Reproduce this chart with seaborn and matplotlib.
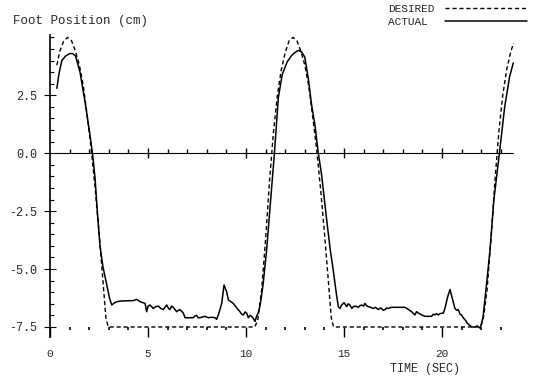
import matplotlib
matplotlib.use("Agg")
import matplotlib.pyplot as plt
from matplotlib.ticker import FixedLocator, MultipleLocator
import seaborn as sns
import pandas as pd

# desired foot trajectory (dashed)
t_desired = [0.35, 0.5, 0.7, 0.9, 1.1, 1.3, 1.5, 1.7, 1.9, 2.1, 2.3, 2.5, 2.7, 2.85, 2.97,
             10.45, 10.6, 10.8, 11.0, 11.2, 11.4, 11.6, 11.8, 12.0, 12.2, 12.4, 12.6, 12.8,
             13.0, 13.2, 13.4, 13.6, 13.8, 14.0, 14.2, 14.35, 14.47,
             21.95, 22.1, 22.3, 22.5, 22.7, 22.9, 23.1, 23.3, 23.5, 23.65]
pos_desired = [3.8, 4.4, 4.85, 5.0, 4.85, 4.4, 3.8, 2.9, 1.6, 0.2, -1.5, -3.4, -5.5, -7.1, -7.5,
               -7.5, -7.2, -5.9, -3.7, -1.2, 0.9, 2.5, 3.6, 4.35, 4.85, 5.0, 4.85, 4.4,
               3.8, 2.9, 1.6, 0.2, -1.5, -3.4, -5.5, -7.1, -7.5,
               -7.5, -7.2, -5.9, -3.7, -1.2, 0.9, 2.5, 3.6, 4.35, 4.75]

# measured foot position (solid)
t_actual = [0.35, 0.45, 0.6, 0.8, 1.0, 1.15, 1.3, 1.53, 1.79, 2.04, 2.18, 2.3, 2.42, 2.55,
            2.7, 2.9, 3.05, 3.15, 3.3, 3.45, 3.6, 4.0, 4.25, 4.42, 4.6, 4.85, 4.93, 5.0,
            5.1, 5.27, 5.4, 5.53, 5.65, 5.78, 5.95, 6.05, 6.12, 6.2, 6.29, 6.38, 6.46,
            6.55, 6.63, 6.8, 6.89, 7.1, 7.31, 7.4, 7.48, 7.56, 7.65, 7.9, 8.08, 8.25,
            8.42, 8.5, 8.6, 8.67, 8.76, 8.88, 9.01, 9.1, 9.35, 9.55, 9.69, 9.78, 9.86,
            9.95, 10.03, 10.12, 10.2, 10.29, 10.38, 10.46, 10.54, 10.62, 10.71, 10.8,
            10.88, 11.05, 11.25, 11.45, 11.65, 11.85, 12.1, 12.33, 12.5, 12.67, 12.84,
            13.0, 13.18, 13.35, 13.52, 13.69, 13.86, 14.12, 14.3, 14.46, 14.6, 14.71,
            14.8, 14.88, 15.0, 15.14, 15.22, 15.3, 15.4, 15.48, 15.6, 15.73, 15.82, 15.9,
            16.0, 16.07, 16.15, 16.24, 16.35, 16.5, 16.6, 16.75, 16.85, 16.92, 17.0,
            17.09, 17.18, 17.26, 17.43, 17.8, 18.11, 18.3, 18.45, 18.62, 18.7, 18.8,
            18.96, 19.13, 19.3, 19.47, 19.55, 19.64, 19.72, 19.81, 19.9, 20.07, 20.15,
            20.29, 20.41, 20.53, 20.66, 20.75, 20.83, 20.92, 21.0, 21.08, 21.17, 21.3,
            21.43, 21.55, 21.68, 21.8, 21.94, 22.02, 22.1, 22.28, 22.45, 22.65, 22.93,
            23.2, 23.45, 23.64]
pos_actual = [2.8, 3.4, 4.0, 4.2, 4.3, 4.3, 4.2, 3.5, 2.2, 0.78, -0.1, -1.1, -2.6, -4.0,
              -4.9, -5.7, -6.3, -6.55, -6.45, -6.4, -6.38, -6.37, -6.36, -6.31, -6.41, -6.48,
              -6.84, -6.6, -6.55, -6.7, -6.62, -6.6, -6.7, -6.75, -6.55, -6.7, -6.75, -6.6,
              -6.65, -6.75, -6.84, -6.78, -6.75, -6.9, -7.1, -7.1, -7.1, -7.02, -7.0, -7.1,
              -7.1, -7.04, -7.1, -7.08, -7.1, -7.17, -6.95, -6.75, -6.48, -5.69, -5.97,
              -6.33, -6.48, -6.7, -6.84, -6.95, -6.98, -6.85, -6.9, -7.1, -7.0, -7.04,
              -7.15, -7.26, -7.04, -6.9, -6.6, -6.1, -5.6, -4.2, -2.1, 0.0, 2.4, 3.4, 3.94,
              4.22, 4.35, 4.44, 4.37, 4.15, 3.22, 2.07, 1.2, 0.0, -0.95, -2.9, -4.18, -5.1,
              -6.0, -6.62, -6.7, -6.55, -6.45, -6.62, -6.5, -6.55, -6.7, -6.62, -6.6, -6.65,
              -6.58, -6.55, -6.6, -6.48, -6.58, -6.62, -6.65, -6.7, -6.65, -6.75, -6.68,
              -6.7, -6.78, -6.75, -6.68, -6.7, -6.65, -6.65, -6.65, -6.75, -6.84, -6.98,
              -6.84, -6.9, -6.98, -7.04, -7.04, -7.04, -6.95, -6.98, -6.92, -6.98, -6.92,
              -6.9, -6.7, -6.2, -5.88, -6.27, -6.7, -6.78, -6.75, -6.95, -6.98, -7.1, -7.18,
              -7.35, -7.44, -7.5, -7.5, -7.45, -7.55, -7.35, -7.04, -5.6, -4.18, -2.0, 0.0,
              2.0, 3.3, 3.9]

x_major = [0, 5, 10, 15, 20]
y_major = [-7.5, -5.0, -2.5, 0.0, 2.5]
y_labels = ["-7.5", "-5.0", "-2.5", "0.0", "2.5"]
seconds = list(range(1, 24))

df_des = pd.DataFrame({"t": t_desired, "pos": pos_desired})
df_act = pd.DataFrame({"t": t_actual, "pos": pos_actual})

sns.set_theme(style="white")
plt.rcParams["font.family"] = ["Liberation Mono", "DejaVu Sans"]
plt.rcParams["axes.unicode_minus"] = False

fig = plt.figure(figsize=(5.35, 3.77), dpi=100)
ax = fig.add_axes([0.0935, 0.105, 0.87, 0.802])

sns.lineplot(data=df_des, x="t", y="pos", ax=ax, color="black", lw=1.0,
             linestyle=(0, (3, 2)), estimator=None, sort=False, label="DESIRED")
sns.lineplot(data=df_act, x="t", y="pos", ax=ax, color="black", lw=1.1,
             estimator=None, sort=False, label="ACTUAL")

ax.set_xlim(0, 23.75)
ax.set_ylim(-7.95, 5.1)

# zero axis with second marks
ax.axhline(0, xmin=0.012, xmax=0.995, color="black", lw=0.8)
minor_s = [s for s in seconds if s % 5 != 0]
ax.plot(minor_s, [0] * len(minor_s), ls="none", marker=2, ms=3, color="black", mew=1)
ax.plot(x_major[1:], [0] * 4, ls="none", marker="|", ms=7, color="black", mew=1)

for side in ["top", "right"]:
    ax.spines[side].set_visible(False)
ax.spines["left"].set_color("black")
ax.spines["left"].set_linewidth(1.2)
ax.spines["bottom"].set_position(("data", -7.5))
ax.spines["bottom"].set_color("none")

ax.xaxis.set_major_locator(FixedLocator(x_major))
ax.xaxis.set_minor_locator(MultipleLocator(1))
ax.yaxis.set_major_locator(FixedLocator(y_major))
ax.yaxis.set_minor_locator(MultipleLocator(0.5))
ax.set_yticklabels(y_labels)

ax.tick_params(axis="x", which="major", direction="out", length=7, width=1,
               color="black", pad=9, labelsize=8, bottom=True)
ax.tick_params(axis="x", which="minor", direction="out", length=2.5, width=1.2,
               color="black", bottom=True)
ax.tick_params(axis="y", which="major", direction="inout", length=9, width=0.8,
               color="black", pad=5, labelsize=8.5, left=True)
ax.tick_params(axis="y", which="minor", direction="in", length=3, width=0.8,
               color="black", left=True)

ax.set_xlabel("TIME (SEC)", fontsize=8.5)
ax.xaxis.set_label_coords(0.805, -0.085)
ax.set_ylabel("Foot Position (cm)", fontsize=9, rotation=0, ha="left", va="center")
ax.yaxis.set_label_coords(-0.08, 1.045)

leg = ax.legend(loc="upper right", bbox_to_anchor=(0.985, 0.99),
                bbox_transform=fig.transFigure, frameon=False, markerfirst=False,
                fontsize=8, handlelength=7.4, handletextpad=0.9, labelspacing=0.25,
                borderpad=0, borderaxespad=0)
leg.get_texts()[1].set_text("ACTUAL ")

fig.savefig("out.png", dpi=100, facecolor="white")
